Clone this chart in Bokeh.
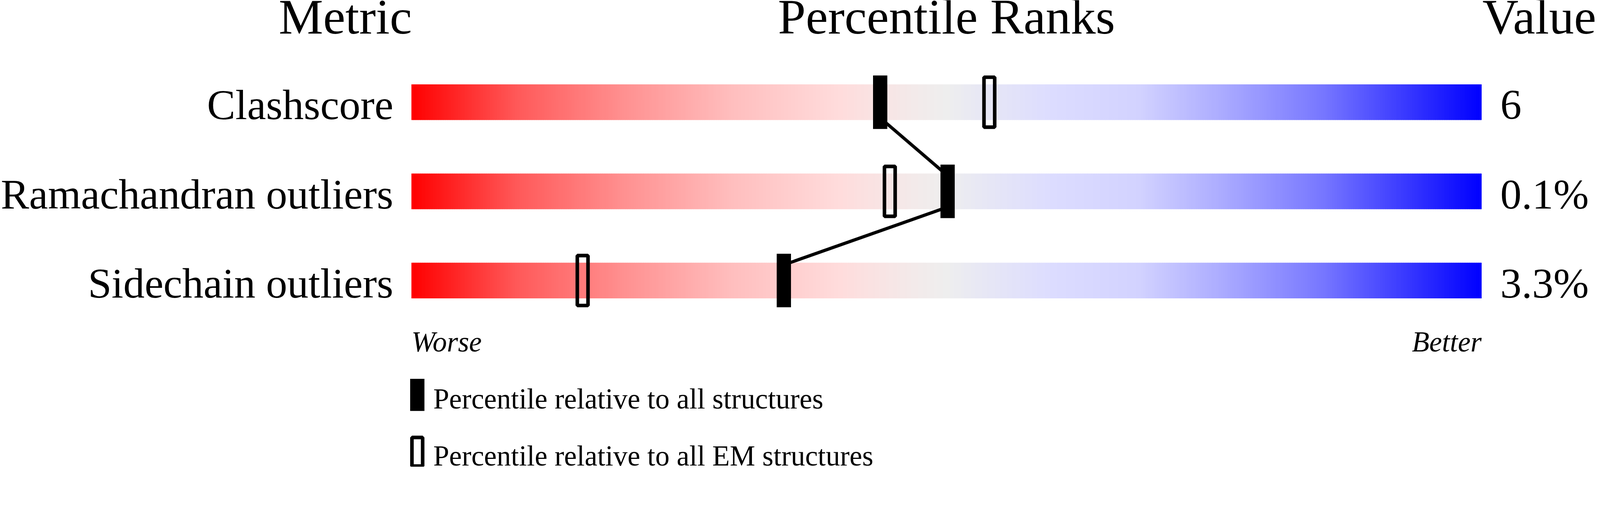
import numpy as np
from bokeh.plotting import figure
from bokeh.models import Range1d
from bokeh.core.properties import value
from bokeh.embed import file_html
from bokeh.resources import INLINE

# ---- data ----
metrics = ["Clashscore", "Ramachandran outliers", "Sidechain outliers"]
metric_values = ["6", "0.1%", "3.3%"]
pct_all = [43.8, 50.1, 34.8]   # percentile relative to all structures
pct_em = [54.0, 44.7, 16.0]    # percentile relative to all EM structures
legend_labels = ["Percentile relative to all structures",
                 "Percentile relative to all EM structures"]

# ---- gradient colour stops (percentile, r, g, b) ----
stop_pos = [0, 10, 20, 30, 40, 47, 50, 53, 60, 68, 75, 85, 100]
stop_r = [255, 255, 255, 255, 255, 243, 238, 232, 220, 210, 175, 120, 0]
stop_g = [0, 90, 145, 190, 220, 234, 238, 232, 220, 210, 175, 120, 0]
stop_b = [0, 90, 145, 190, 220, 234, 238, 244, 255, 255, 255, 255, 255]

FONT = value("Liberation Serif")
K = 4485 / 4096.0          # reference px per page px
PXU = 30.0                 # reference px per percentile unit
BAR0 = 1152.7              # reference px of percentile 0
Wc, Hc = 4094, 1195        # figure size in page px
BASE_SHIFT = 0.355         # baseline correction (em)


def fs(px):
    return "%.1fpx" % (px / K)


def by(y, size):
    return y - BASE_SHIFT * size


p = figure(width=Wc, height=Hc,
           x_range=Range1d(-BAR0 / PXU, (Wc * K - BAR0) / PXU),
           y_range=Range1d(Hc * K, 0),
           output_backend="svg", toolbar_location=None, min_border=0)
p.axis.visible = False
p.grid.visible = False
p.outline_line_color = None
p.background_fill_color = "white"
p.border_fill_color = "white"

n = len(metrics)
bar_top = [236 + 250 * i for i in range(n)]
bar_bot = [t + 100 for t in bar_top]
bar_mid = [t + 50 for t in bar_top]

# gradient bars
nstrip = 600
edges = np.linspace(0, 100, nstrip + 1)
mids = (edges[:-1] + edges[1:]) / 2
rr = np.interp(mids, stop_pos, stop_r)
gg = np.interp(mids, stop_pos, stop_g)
bb = np.interp(mids, stop_pos, stop_b)
cols = ["#%02x%02x%02x" % (int(round(a)), int(round(b)), int(round(c)))
        for a, b, c in zip(rr, gg, bb)]
L, R, T, B, C = [], [], [], [], []
for i in range(n):
    L += list(edges[:-1])
    R += list(np.minimum(edges[1:] + 0.04, 100))
    T += [bar_top[i]] * nstrip
    B += [bar_bot[i]] * nstrip
    C += cols
p.quad(left=L, right=R, top=T, bottom=B, fill_color=C, line_color=None)

# connecting lines
x0 = pct_all[:-1]
x1 = pct_all[1:]
y0 = [bar_bot[i] - 6 for i in range(n - 1)]
y1 = [bar_top[i + 1] + 6 for i in range(n - 1)]
p.segment(x0=x0, y0=y0, x1=x1, y1=y1, line_color="black", line_width=9 / K)

# markers
p.rect(x=pct_all, y=bar_mid, width=40 / PXU, height=150,
       fill_color="black", line_color=None)
p.rect(x=pct_em, y=bar_mid, width=30 / PXU, height=140,
       fill_color=None, line_color="black", line_width=10 / K)

# titles
p.text(x=[(1154 - BAR0) / PXU], y=[by(96, 140)], text=["Metric"], text_font=FONT,
       text_font_size=fs(140), text_align="right", text_baseline="alphabetic",
       text_color="black")
p.text(x=[50], y=[by(96, 140)], text=["Percentile Ranks"], text_font=FONT,
       text_font_size=fs(140), text_align="center", text_baseline="alphabetic",
       text_color="black")
p.text(x=[(4155 - BAR0) / PXU], y=[by(96, 140)], text=["Value"], text_font=FONT,
       text_font_size=fs(140), text_align="left", text_baseline="alphabetic",
       text_color="black")

# row labels and values
p.text(x=[(1102 - BAR0) / PXU] * n, y=[by(b, 119) for b in bar_bot], text=metrics,
       text_font=FONT, text_font_size=fs(119), text_align="right",
       text_baseline="alphabetic", text_color="black")
p.text(x=[(4205 - BAR0) / PXU] * n, y=[by(b, 119) for b in bar_bot],
       text=metric_values, text_font=FONT, text_font_size=fs(119),
       text_align="left", text_baseline="alphabetic", text_color="black")

# worse / better
p.text(x=[0], y=[by(987, 80)], text=["Worse"], text_font=FONT, text_font_size=fs(80),
       text_font_style="italic", text_align="left", text_baseline="alphabetic")
p.text(x=[100], y=[by(987, 80)], text=["Better"], text_font=FONT,
       text_font_size=fs(80), text_font_style="italic", text_align="right",
       text_baseline="alphabetic")

# legend
lx = (1169.2 - BAR0) / PXU
p.rect(x=[lx], y=[1106.5], width=40 / PXU, height=90, fill_color="black",
       line_color=None)
p.rect(x=[lx], y=[1266], width=30 / PXU, height=80, fill_color=None,
       line_color="black", line_width=10 / K)
p.text(x=[(1214 - BAR0) / PXU] * 2, y=[by(1146, 80), by(1306, 80)],
       text=legend_labels, text_font=FONT, text_font_size=fs(80),
       text_align="left", text_baseline="alphabetic")

open("out.html", "w").write(file_html(p, INLINE))
